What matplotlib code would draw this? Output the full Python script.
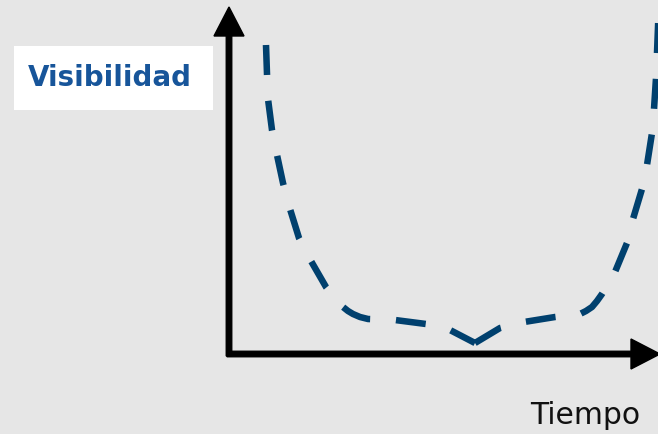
import matplotlib
matplotlib.use('Agg')
import matplotlib.pyplot as plt
from matplotlib.patches import Rectangle

# curve (tiempo, visibilidad), origin at the axes corner
tiempo = [37, 38, 39, 43, 48, 54, 61, 70, 82, 97, 106, 114, 119, 124, 131, 139, 166,
          197, 221, 246, 271, 295, 326, 351, 357, 363, 368, 373, 379, 386, 398, 404,
          413, 418, 423, 425, 427, 428, 429, 430]
visibilidad = [309, 280, 255, 224, 199, 171, 145, 116, 93, 67, 56, 47, 43, 40, 37, 35, 34,
               30, 24, 11, 26, 32, 37, 40, 43, 47, 53, 60, 70, 82, 111, 135,
               165, 189, 221, 245, 276, 301, 327, 354]
v_idx = 19  # the notch: left and right arms are drawn as separate dashed strokes

ylabel = 'Visibilidad'
xlabel = 'Tiempo'

plt.rcParams['lines.scale_dashes'] = False

fig = plt.figure(figsize=(6.58, 4.34), dpi=100)
fig.patch.set_facecolor('#e6e6e6')
ax = fig.add_axes([0, 0, 1, 1])
ax.set_facecolor('#e6e6e6')
ax.set_xlim(-229, 429)
ax.set_ylim(-80, 354)
ax.axis('off')

# axes arrows
ax.arrow(0, -2, 0, 349, width=5.5, head_width=30, head_length=29,
         length_includes_head=True, color='black', zorder=3)
ax.arrow(-2, 0, 433, 0, width=5.5, head_width=30, head_length=29,
         length_includes_head=True, color='black', zorder=3)

style = dict(color='#00406e', lw=4.7, dashes=(21.6, 18.6), dash_capstyle='butt',
             dash_joinstyle='round', zorder=2)
ax.plot(tiempo[:v_idx + 1], visibilidad[:v_idx + 1], **style)
ax.plot(tiempo[v_idx:], visibilidad[v_idx:], **style)

ax.add_patch(Rectangle((-215, 244), 199, 64, facecolor='white', edgecolor='none'))
ax.text(-119.5, 276, ylabel, color='#17559a', fontsize=20, fontweight='bold',
        ha='center', va='center')
ax.text(301, -70, xlabel, color='#111111', fontsize=21.5, ha='left', va='baseline')

fig.savefig('out.png', dpi=100, facecolor=fig.get_facecolor())
